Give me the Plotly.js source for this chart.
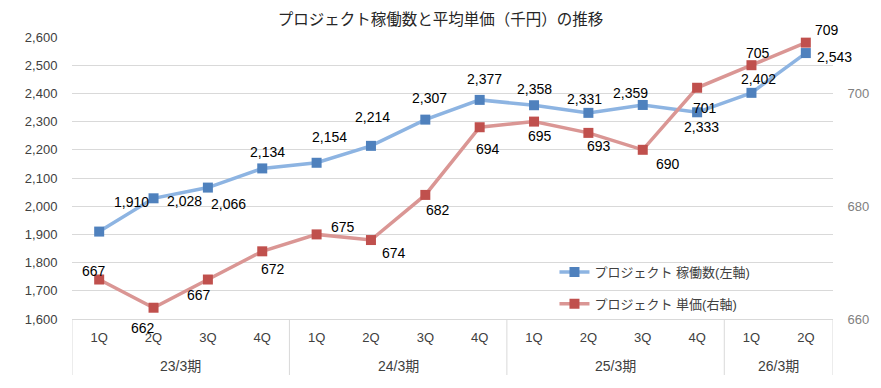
<!DOCTYPE html>
<html>
<head>
<meta charset="utf-8">
<script src="https://cdn.plot.ly/plotly-3.0.1.min.js"></script>
<style>html,body{margin:0;padding:0;background:#fff;}#chart{width:881px;height:388px;}</style>
</head>
<body>
<div id="chart"></div>
<script>
// ---- data ----
const quarters = ['1Q','2Q','3Q','4Q','1Q','2Q','3Q','4Q','1Q','2Q','3Q','4Q','1Q','2Q'];
const periodYears = ['23/3期','23/3期','23/3期','23/3期','24/3期','24/3期','24/3期','24/3期','25/3期','25/3期','25/3期','25/3期','26/3期','26/3期'];
const projectCount = [1910, 2028, 2066, 2134, 2154, 2214, 2307, 2377, 2358, 2331, 2359, 2333, 2402, 2543];
const unitPrice = [667, 662, 667, 672, 675, 674, 682, 694, 695, 693, 690, 701, 705, 709];
const countName = 'プロジェクト 稼働数(左軸)';
const priceName = 'プロジェクト 単価(右軸)';
const titleText = 'プロジェクト稼働数と平均単価（千円）の推移';

// ---- label offsets (px) ----
const countLabelShift = [[32,-30],[31,3],[21,16],[5,-16],[13,-26],[2,-29],[4,-22],[5,-21],[0,-16],[-4,-14],[-12,-12],[4,15],[7,-14],[29,4]];
const priceLabelShift = [[-5,-9],[-11,20],[-9,15],[11,18],[26,-7],[23,13],[13,15],[8,22],[6,14],[11,13],[25,14],[8,20],[7,-12],[21,-13]];

const FONT = 'Liberation Sans, Arial, Noto Sans CJK JP, sans-serif';
const xIdx = quarters.map((q, i) => i);

const traces = [
  {
    x: xIdx, y: projectCount, name: countName, type: 'scatter', mode: 'lines+markers',
    line: {color: '#8db4e2', width: 3.5},
    marker: {symbol: 'square', size: 10, color: '#4f81bd', line: {width: 0}},
    yaxis: 'y', legendgroup: 'a', hoverinfo: 'y'
  },
  {
    x: xIdx, y: unitPrice, name: priceName, type: 'scatter', mode: 'lines+markers',
    line: {color: '#da9694', width: 3.5},
    marker: {symbol: 'square', size: 10, color: '#c0504d', line: {width: 0}},
    yaxis: 'y2', legendgroup: 'b', hoverinfo: 'y'
  }
];

const annotations = [];
projectCount.forEach((v, i) => {
  annotations.push({x: i, y: v, xref: 'x', yref: 'y', text: v.toLocaleString('en-US'), showarrow: false,
    xshift: countLabelShift[i][0], yshift: -countLabelShift[i][1], font: {family: FONT, size: 14, color: '#000'}});
});
unitPrice.forEach((v, i) => {
  annotations.push({x: i, y: v, xref: 'x', yref: 'y2', text: String(v), showarrow: false,
    xshift: priceLabelShift[i][0], yshift: -priceLabelShift[i][1], font: {family: FONT, size: 14, color: '#000'}});
});

// year groups
const groups = [];
periodYears.forEach((y, i) => {
  if (!groups.length || groups[groups.length - 1].name !== y) groups.push({name: y, start: i, end: i});
  else groups[groups.length - 1].end = i;
});
const shapes = [];
groups.forEach((g, k) => {
  annotations.push({x: (g.start + g.end) / 2, y: -0.167, xref: 'x', yref: 'paper', text: g.name, showarrow: false,
    yanchor: 'middle', font: {family: FONT, size: 14, color: '#404040'}});
  shapes.push({type: 'line', xref: 'x', yref: 'paper', x0: g.start - 0.5, x1: g.start - 0.5, y0: 0, y1: -0.1986,
    line: {color: '#d9d9d9', width: 1}});
  if (k === groups.length - 1) {
    shapes.push({type: 'line', xref: 'x', yref: 'paper', x0: g.end + 0.5, x1: g.end + 0.5, y0: 0, y1: -0.1986,
      line: {color: '#d9d9d9', width: 1}});
  }
});

const layout = {
  width: 881, height: 388,
  margin: {l: 72, r: 48, t: 37, b: 69},
  paper_bgcolor: '#fff', plot_bgcolor: '#fff',
  font: {family: FONT, size: 13, color: '#404040'},
  title: {text: titleText, x: 0.5, xref: 'container', y: 1 - 20 / 388, yref: 'container', yanchor: 'middle',
    font: {family: FONT, size: 15.5, color: '#262626'}},
  showlegend: true,
  legend: {x: 0.634, xanchor: 'left', y: 0.22, yanchor: 'top', bgcolor: 'rgba(0,0,0,0)',
    font: {family: FONT, size: 13, color: '#404040'}, tracegroupgap: 12, traceorder: 'grouped'},
  xaxis: {
    range: [-0.5, quarters.length - 0.5], tickmode: 'array', tickvals: xIdx, ticktext: quarters,
    showgrid: false, zeroline: false, showline: true, linecolor: '#d9d9d9', linewidth: 1,
    ticks: 'outside', ticklen: 6, tickcolor: 'rgba(0,0,0,0)',
    tickfont: {family: FONT, size: 13, color: '#404040'}, fixedrange: true
  },
  yaxis: {
    range: [1600, 2600], dtick: 100, tickformat: ',d', showgrid: true, gridcolor: '#d9d9d9', gridwidth: 1,
    zeroline: false, showline: false, ticks: 'outside', ticklen: 11, tickcolor: 'rgba(0,0,0,0)',
    tickfont: {family: FONT, size: 13, color: '#404040'}, fixedrange: true
  },
  yaxis2: {
    range: [660, 710], tick0: 660, dtick: 20, overlaying: 'y', side: 'right', showgrid: false,
    zeroline: false, showline: false, ticks: 'outside', ticklen: 11, tickcolor: 'rgba(0,0,0,0)',
    tickfont: {family: FONT, size: 13, color: '#808080'}, fixedrange: true
  },
  annotations: annotations,
  shapes: shapes
};

Plotly.newPlot('chart', traces, layout, {displayModeBar: false, staticPlot: true});
</script>
</body>
</html>
